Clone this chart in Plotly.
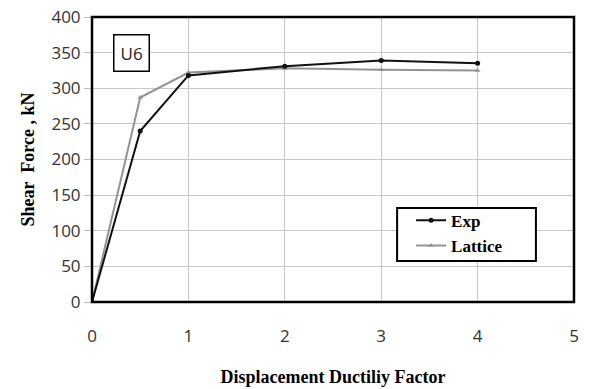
import plotly.graph_objects as go

x_vals = [0, 0.5, 1, 2, 3, 4]
exp_vals = [0, 240, 318, 331, 339, 335]
lattice_vals = [0, 287, 322, 328, 326, 325]
x_ticks = [0, 1, 2, 3, 4, 5]
y_ticks = [0, 50, 100, 150, 200, 250, 300, 350, 400]

fig = go.Figure()
fig.add_trace(go.Scatter(x=x_vals, y=lattice_vals, name="Lattice", mode="lines+markers",
                         line=dict(color="#939393", width=2),
                         marker=dict(symbol="triangle-up", size=5, color="#939393")))
fig.add_trace(go.Scatter(x=x_vals, y=exp_vals, name="Exp", mode="lines+markers",
                         line=dict(color="#111111", width=2),
                         marker=dict(symbol="circle", size=5, color="#111111")))

fig.update_layout(
    width=589, height=389,
    margin=dict(l=92, r=15, t=17, b=87),
    plot_bgcolor="white", paper_bgcolor="white",
    showlegend=True,
    legend=dict(x=0.662, y=0.348, xanchor="left", yanchor="top",
                borderwidth=0, bgcolor="rgba(0,0,0,0)",
                traceorder="reversed",
                font=dict(family="Liberation Serif", size=17, color="black", weight="bold"),
                itemwidth=30, tracegroupgap=0),
    xaxis=dict(range=[0, 5], tickvals=x_ticks, showgrid=True, gridcolor="#c8c8c8", gridwidth=1,
               zeroline=False, showline=False, ticks="", ticklabelstandoff=22, automargin=False,
               tickfont=dict(family="Open Sans", size=17, color="#333333"),
               title=dict(text="<b>Displacement Ductiliy Factor</b>", standoff=24,
                          font=dict(family="Liberation Serif", size=18, color="black"))),
    yaxis=dict(range=[0, 400], tickvals=y_ticks, showgrid=True, gridcolor="#c8c8c8", gridwidth=1,
               zeroline=False, showline=False, ticks="outside", ticklen=7, tickcolor="#bbbbbb",
               automargin=False,
               tickfont=dict(family="Open Sans", size=17, color="#333333"),
               title=dict(text="<b>Shear  Force , kN</b>", standoff=12,
                          font=dict(family="Liberation Serif", size=18, color="black"))),
)

fig.add_shape(type="rect", xref="paper", yref="paper", x0=0, y0=0, x1=1, y1=1,
              line=dict(color="black", width=2.5))
fig.add_shape(type="rect", xref="paper", yref="paper", x0=0.633, y0=0.144, x1=0.921, y1=0.330,
              line=dict(color="black", width=2), fillcolor="white", layer="above")
fig.add_annotation(xref="paper", yref="paper", x=0.081, y=0.874, text="U6", showarrow=False,
                   xanchor="center", yanchor="middle",
                   font=dict(family="Open Sans", size=17, color="#222222"),
                   bordercolor="black", borderwidth=1.5, borderpad=6, bgcolor="white")

fig.write_html("out.html")
